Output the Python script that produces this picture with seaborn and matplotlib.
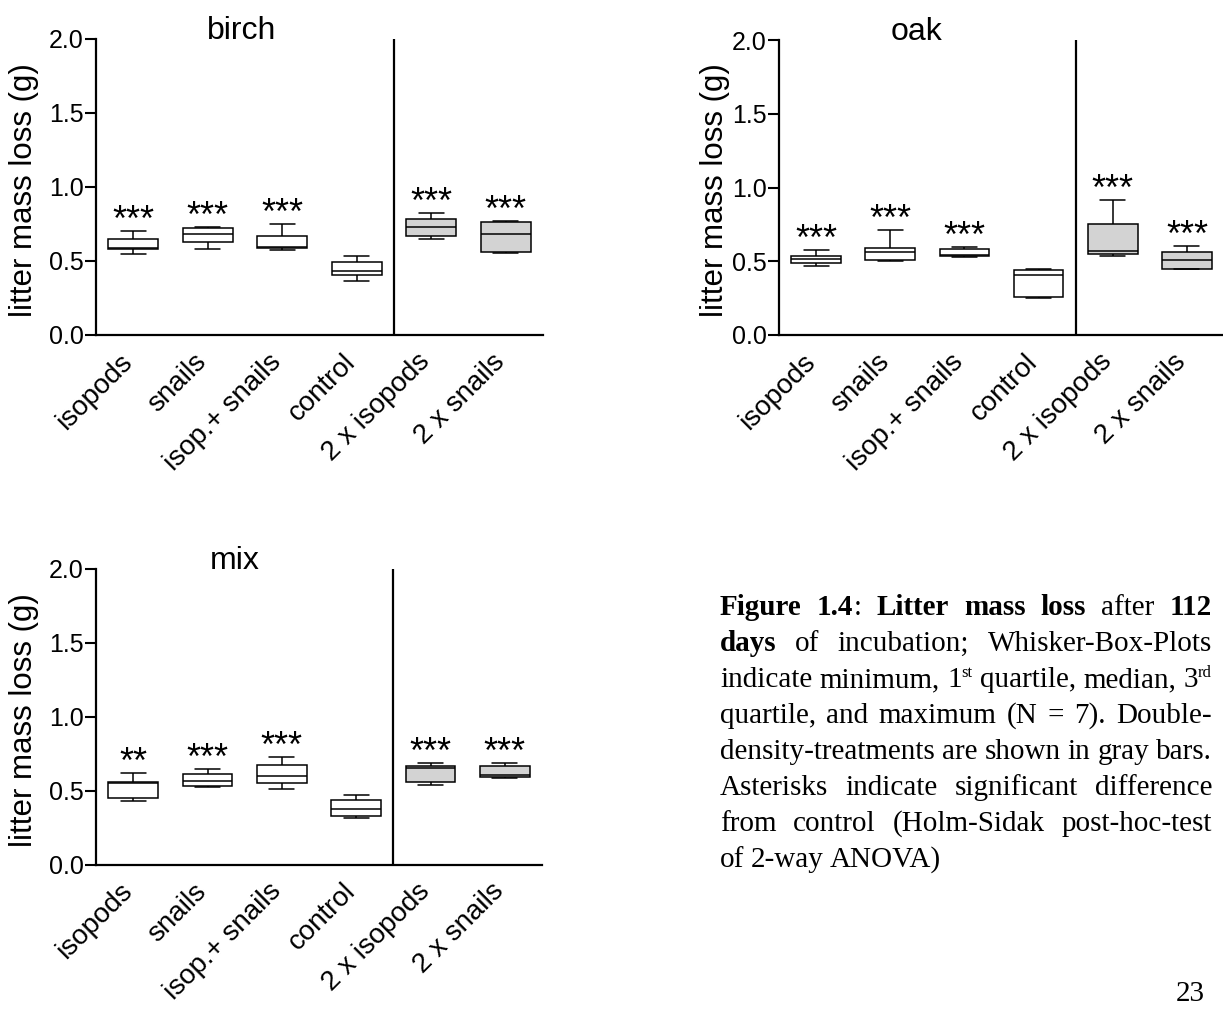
import matplotlib
matplotlib.use("Agg")
import matplotlib.pyplot as plt
import matplotlib.transforms as mtransforms
import seaborn as sns
import pandas as pd

# treatments on the x axis
treatments = ["isopods", "snails", "isop.+ snails", "control", "2 x isopods", "2 x snails"]
density = ["single", "single", "single", "single", "double", "double"]

# five-number summaries: min, q1, median, q3, max
birch_min = [0.545, 0.580, 0.574, 0.367, 0.649, 0.552]
birch_q1 = [0.580, 0.626, 0.586, 0.405, 0.667, 0.563]
birch_med = [0.585, 0.682, 0.593, 0.430, 0.728, 0.680]
birch_q3 = [0.646, 0.720, 0.667, 0.491, 0.786, 0.763]
birch_max = [0.700, 0.728, 0.748, 0.534, 0.826, 0.768]

oak_min = [0.471, 0.502, 0.529, 0.252, 0.534, 0.446]
oak_q1 = [0.489, 0.507, 0.538, 0.259, 0.547, 0.450]
oak_med = [0.516, 0.565, 0.543, 0.410, 0.568, 0.509]
oak_q3 = [0.538, 0.592, 0.581, 0.444, 0.755, 0.563]
oak_max = [0.579, 0.709, 0.597, 0.446, 0.914, 0.606]

mix_min = [0.431, 0.522, 0.509, 0.316, 0.541, 0.587]
mix_q1 = [0.450, 0.529, 0.552, 0.331, 0.559, 0.593]
mix_med = [0.552, 0.566, 0.600, 0.377, 0.652, 0.604]
mix_q3 = [0.559, 0.613, 0.672, 0.436, 0.668, 0.666]
mix_max = [0.620, 0.645, 0.725, 0.470, 0.684, 0.690]

# significance vs control
birch_sig = ["***", "***", "***", "", "***", "***"]
oak_sig = ["***", "***", "***", "", "***", "***"]
mix_sig = ["**", "***", "***", "", "***", "***"]

panels = {
    "birch": (birch_min, birch_q1, birch_med, birch_q3, birch_max, birch_sig),
    "oak": (oak_min, oak_q1, oak_med, oak_q3, oak_max, oak_sig),
    "mix": (mix_min, mix_q1, mix_med, mix_q3, mix_max, mix_sig),
}

# caption words; b = bold, n = normal, s = superscript
caption = [
    "bFigure b1.4|n: bLitter bmass bloss nafter b112",
    "bdays nof nincubation; nWhisker-Box-Plots",
    "nindicate nminimum, n1|sst nquartile, nmedian, n3|srd",
    "nquartile, nand nmaximum n(N n= n7). nDouble-",
    "ndensity-treatments nare nshown nin ngray nbars.",
    "nAsterisks nindicate nsignificant ndifference",
    "nfrom ncontrol n(Holm-Sidak npost-hoc-test",
    "nof n2-way nANOVA)",
]

sns.set_style("ticks")
plt.rcParams["font.family"] = ["Liberation Sans", "DejaVu Sans"]
plt.rcParams["text.color"] = "black"
plt.rcParams["axes.labelcolor"] = "black"
plt.rcParams["xtick.color"] = "black"
plt.rcParams["ytick.color"] = "black"

W, H = 1223, 1009
fig = plt.figure(figsize=(W / 100, H / 100), dpi=100)

# axes boxes in pixels: left, top, right, bottom
boxes = {
    "birch": (96, 39, 543, 335),
    "oak": (779, 40, 1224, 335),
    "mix": (96, 569, 542, 864.5),
}
title_x = {"birch": 0.326, "oak": 0.31, "mix": 0.312}

# shift rotated tick labels down-left a little
shift = mtransforms.ScaledTranslation(-14 / 100, -11 / 100, fig.dpi_scale_trans)

for name, (mn, q1, med, q3, mx, sig) in panels.items():
    l, t, r, b = boxes[name]
    ax = fig.add_axes([l / W, 1 - b / H, (r - l) / W, (b - t) / H])

    rows = []
    for i, tr in enumerate(treatments):
        for v in (mn[i], q1[i], med[i], q3[i], mx[i]):
            rows.append({"treatment": tr, "density": density[i], "loss": v})
    df = pd.DataFrame(rows)

    sns.boxplot(data=df, x="treatment", y="loss", hue="density",
                palette={"single": "white", "double": "#d3d3d3"},
                dodge=False, legend=False, whis=(0, 100), showfliers=False,
                width=0.67, linecolor="black", linewidth=1.1, ax=ax)

    for i, s in enumerate(sig):
        if s:
            ax.annotate(s, xy=(i, mx[i]), xytext=(0, 0), textcoords="offset points",
                        ha="center", va="baseline", fontsize=26)

    ax.axvline(3.5, color="black", lw=1.6)
    ax.set_xlim(-0.5, 5.5)
    ax.set_ylim(0, 2.0)
    ax.set_yticks([0, 0.5, 1.0, 1.5, 2.0])
    ax.set_yticklabels(["0.0", "0.5", "1.0", "1.5", "2.0"])
    ax.tick_params(axis="y", labelsize=18, length=8, width=1.5, pad=1)
    ax.tick_params(axis="x", labelsize=20, length=0, pad=2)
    for lab in ax.get_xticklabels():
        lab.set_rotation(45)
        lab.set_ha("right")
        lab.set_va("top")
        lab.set_rotation_mode("anchor")
        lab.set_transform(lab.get_transform() + shift)
    sns.despine(ax=ax)
    for sp in ("left", "bottom"):
        ax.spines[sp].set_linewidth(1.6)
        ax.spines[sp].set_color("black")
    ax.set_xlabel("")
    ax.set_ylabel("litter mass loss (g)", fontsize=22.5)
    ax.yaxis.set_label_coords(-0.128 if name != "oak" else -0.11, 0.49)
    ax.text(title_x[name], 1.0, name, transform=ax.transAxes, ha="center",
            va="baseline", fontsize=23)

# justified caption on the right
renderer = fig.canvas.get_renderer()
cap_left, cap_right = 720, 1212
base0, step = 615, 36
serif = "Liberation Serif"
for k, line in enumerate(caption):
    y = base0 + step * k
    words = []
    for w in line.split(" "):
        words.append([(seg[0], seg[1:]) for seg in w.split("|")])
    placed = []
    widths = []
    for segs in words:
        ww = 0
        arts = []
        for style, txt in segs:
            kw = dict(fontsize=21, family=serif, va="baseline", ha="left")
            if style == "b":
                kw["weight"] = "bold"
            if style == "s":
                kw["fontsize"] = 12
            a = fig.text(0, 0, txt, **kw)
            arts.append((a, style, ww))
            ww += a.get_window_extent(renderer).width
        placed.append(arts)
        widths.append(ww)
    if k < len(caption) - 1 and len(words) > 1:
        gap = (cap_right - cap_left - sum(widths)) / (len(words) - 1)
    else:
        gap = 6
    x = cap_left
    for arts, ww in zip(placed, widths):
        for a, style, off in arts:
            yy = y - 10 if style == "s" else y
            a.set_position(((x + off) / W, 1 - yy / H))
        x += ww + gap

fig.text(1190 / W, 1 - 1007 / H, "23", family=serif, fontsize=21, ha="center", va="bottom")

fig.savefig("out.png", dpi=100)
